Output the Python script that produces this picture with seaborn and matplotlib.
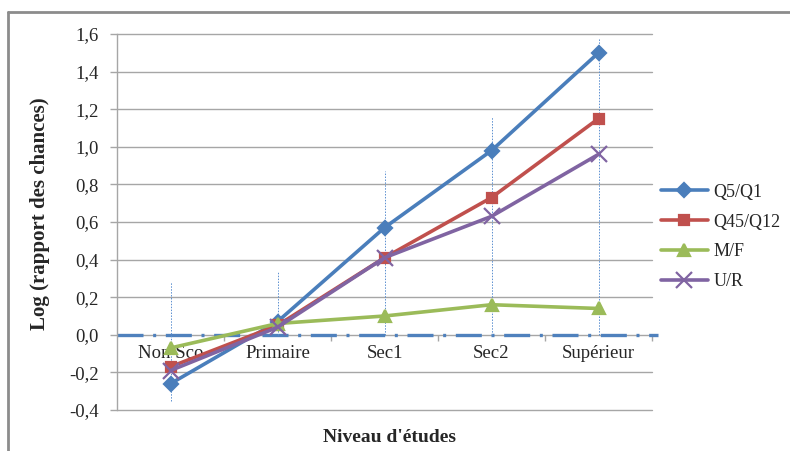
import matplotlib
matplotlib.use("Agg")
import matplotlib.pyplot as plt
from matplotlib.lines import Line2D
from matplotlib.ticker import FixedLocator, FuncFormatter
import pandas as pd
import seaborn as sns

# values
niveaux = ["Non Sco", "Primaire", "Sec1", "Sec2", "Supérieur"]
q5_q1 = [-0.26, 0.07, 0.57, 0.98, 1.50]
q45_q12 = [-0.17, 0.05, 0.41, 0.73, 1.15]
m_f = [-0.07, 0.06, 0.10, 0.16, 0.14]
u_r = [-0.19, 0.04, 0.41, 0.63, 0.96]
ligne_haut = [0.28, 0.335, 0.87, 1.16, 1.58]
ligne_bas = [-0.35, 0.0, 0.0, 0.0, 0.0]

series = {"Q5/Q1": q5_q1, "Q45/Q12": q45_q12, "M/F": m_f, "U/R": u_r}
couleurs = {"Q5/Q1": "#4A7EBB", "Q45/Q12": "#C0504D", "M/F": "#9BBB59", "U/R": "#8064A2"}
marqueurs = {"Q5/Q1": "D", "Q45/Q12": "s", "M/F": "^", "U/R": "x"}
tailles = {"Q5/Q1": 7, "Q45/Q12": 7, "M/F": 8, "U/R": 11}

sns.set_theme(style="white")
plt.rcParams["font.family"] = ["Liberation Serif", "DejaVu Serif"]

fig = plt.figure(figsize=(7.9, 4.51), dpi=100)
ax = fig.add_axes([117 / 790, 1 - 410 / 451, 535 / 790, 376 / 451])

# reference line at zero and vertical dotted lines
ax.axhline(0, xmin=0, xmax=1.012, color="#4F81BD", lw=2.4, clip_on=False,
           dashes=(7.8, 2.9, 0.9, 2.9), zorder=2)
ax.vlines(range(len(niveaux)), ligne_bas, ligne_haut, color="#5B8FD0",
          lw=0.7, linestyles=(0, (1.5, 1.5)), zorder=2)

for nom, vals in series.items():
    d = pd.DataFrame({"Niveau": niveaux, "Valeur": vals})
    sns.lineplot(data=d, x="Niveau", y="Valeur", color=couleurs[nom], marker=marqueurs[nom],
                 markersize=tailles[nom], markeredgewidth=1.6,
                 markeredgecolor=couleurs[nom], lw=2.6, label=nom, ax=ax,
                 zorder=3, sort=False)

ax.set_xlim(-0.5, len(niveaux) - 0.5)
ax.set_ylim(-0.4, 1.6)
ax.yaxis.set_major_locator(FixedLocator([-0.4 + 0.2 * i for i in range(11)]))
ax.yaxis.set_major_formatter(FuncFormatter(lambda v, p: f"{v:.1f}".replace(".", ",")))
ax.grid(axis="y", color="#A6A6A6", lw=1)
for gl in ax.get_ygridlines():
    gl.set_clip_on(False)
ax.set_axisbelow(True)

for s in ["top", "right", "bottom"]:
    ax.spines[s].set_visible(False)
ax.spines["left"].set_color("#A6A6A6")
ax.spines["left"].set_linewidth(1)
ax.spines["bottom"].set_position(("data", 0))

ax.tick_params(axis="y", left=True, direction="out", length=5, width=1,
               color="#A6A6A6", labelsize=13.5, pad=8)
ax.set_xticks(range(len(niveaux)))
ax.set_xticklabels(niveaux)
ax.set_xticks([i + 0.5 for i in range(len(niveaux))], minor=True)
ax.tick_params(axis="x", which="major", bottom=True, length=0, labelsize=13.5, pad=7)
ax.tick_params(axis="x", which="minor", bottom=True, direction="out", length=4,
               width=1, color="#A6A6A6")

ax.set_ylabel("Log (rapport des chances)", fontsize=15, fontweight="bold")
ax.yaxis.label.set_va("center")
ax.yaxis.set_label_coords(-0.144, 0.521)
ax.set_xlabel("Niveau d'études", fontsize=14, fontweight="bold")
ax.xaxis.label.set_va("center")
ax.xaxis.set_label_coords(0.51, -0.072)

handles, labels = ax.get_legend_handles_labels()
ax.legend(handles, labels, loc="center left", bbox_to_anchor=(661 / 790, 1 - 237 / 451),
          bbox_transform=fig.transFigure, frameon=False, fontsize=13,
          handlelength=2.6, handletextpad=0.3, labelspacing=0.72, borderpad=0,
          borderaxespad=0)

# outer chart frame (top and left edges visible)
fig.add_artist(Line2D([8 / 790, 8 / 790], [0, 1 - 12 / 451], color="#8C8C8C", lw=2,
                      transform=fig.transFigure))
fig.add_artist(Line2D([8 / 790, 1], [1 - 12 / 451, 1 - 12 / 451], color="#8C8C8C", lw=2,
                      transform=fig.transFigure))

fig.savefig("out.png", dpi=100)
